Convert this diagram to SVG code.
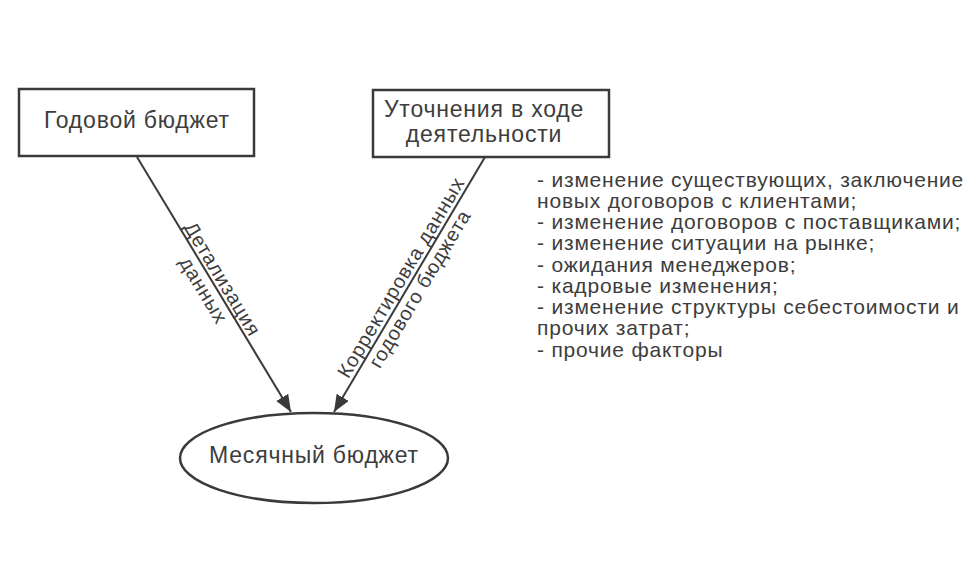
<svg xmlns="http://www.w3.org/2000/svg" width="977" height="582" viewBox="0 0 977 582">
<style>
.box{fill:#fff;stroke:#3a3a3a;stroke-width:2.5}
.t{font-family:"Liberation Sans",Arial,sans-serif;fill:#3d3d3d}
.big{font-size:23px;letter-spacing:0.8px}
.sm{font-size:21px;letter-spacing:0.8px}
.lab{font-size:20px;letter-spacing:0.8px}
.con{stroke:#3a3a3a;stroke-width:2;fill:none}
</style>
<defs>
<marker id="ah" markerUnits="userSpaceOnUse" markerWidth="18" markerHeight="14" refX="17" refY="7" orient="auto">
<path d="M0,0 L17,7 L0,14 Z" fill="#3a3a3a"/>
</marker>
</defs>
<rect width="977" height="582" fill="#fff"/>
<g id="connectors">
<line class="con" x1="137" y1="157" x2="291" y2="412" marker-end="url(#ah)"/>
<line class="con" x1="485" y1="157" x2="334" y2="412" marker-end="url(#ah)"/>
<g transform="translate(213.2,284.5) rotate(58.9)">
<text class="t lab" text-anchor="middle" x="0" y="-4">Детализация</text>
<text class="t lab" text-anchor="middle" x="0" y="18">данных</text>
</g>
<g transform="translate(410.2,283) rotate(-59.3)">
<text class="t lab" text-anchor="middle" x="0" y="-4">Корректировка данных</text>
<text class="t lab" text-anchor="middle" x="0" y="18">годового бюджета</text>
</g>
</g>
<g id="node-annual">
<rect class="box" x="19" y="89" width="235" height="67"/>
<text class="t big" x="137" y="128" text-anchor="middle">Годовой бюджет</text>
</g>
<g id="node-refine">
<rect class="box" x="373" y="90" width="236" height="67"/>
<text class="t big" x="484" y="117" text-anchor="middle">Уточнения в ходе</text>
<text class="t big" x="484" y="142" text-anchor="middle">деятельности</text>
</g>
<g id="node-monthly">
<ellipse class="box" cx="314" cy="458" rx="134" ry="45"/>
<text class="t big" x="314" y="463" text-anchor="middle">Месячный бюджет</text>
</g>
<g id="factors">
<text class="t sm" x="537" y="187">- изменение существующих, заключение</text>
<text class="t sm" x="537" y="208">новых договоров с клиентами;</text>
<text class="t sm" x="537" y="229">- изменение договоров с поставщиками;</text>
<text class="t sm" x="537" y="250">- изменение ситуации на рынке;</text>
<text class="t sm" x="537" y="272">- ожидания менеджеров;</text>
<text class="t sm" x="537" y="293">- кадровые изменения;</text>
<text class="t sm" x="537" y="314">- изменение структуры себестоимости и</text>
<text class="t sm" x="537" y="335">прочих затрат;</text>
<text class="t sm" x="537" y="357">- прочие факторы</text>
</g>
</svg>
